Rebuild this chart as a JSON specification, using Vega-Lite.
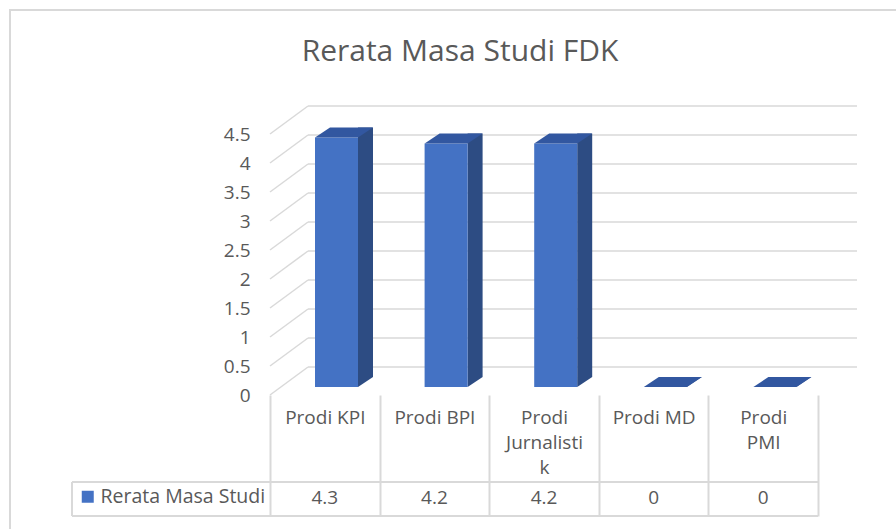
{
  "$schema": "https://vega.github.io/schema/vega-lite/v6.json",
  "autosize": "none",
  "width": 548,
  "height": 261,
  "padding": {"left": 270, "top": 134, "right": 78, "bottom": 134},
  "background": "white",
  "config": {
    "view": {"stroke": null},
    "font": "Open Sans",
    "text": {"font": "Open Sans"}
  },
  "title": {
    "text": "Rerata Masa Studi FDK",
    "font": "Open Sans",
    "fontSize": 30,
    "fontWeight": "normal",
    "color": "#595959",
    "anchor": "middle",
    "frame": "group",
    "baseline": "alphabetic",
    "dx": -84,
    "offset": -82
  },
  "datasets": {
    "bars": [
      {"prodi": "Prodi KPI", "rerata": 4.3, "series": "Rerata Masa Studi"},
      {"prodi": "Prodi BPI", "rerata": 4.2, "series": "Rerata Masa Studi"},
      {"prodi": "Prodi Jurnalistik", "rerata": 4.2, "series": "Rerata Masa Studi"},
      {"prodi": "Prodi MD", "rerata": 0, "series": "Rerata Masa Studi"},
      {"prodi": "Prodi PMI", "rerata": 0, "series": "Rerata Masa Studi"}
    ],
    "ticks": [
      {"v": 0}, {"v": 0.5}, {"v": 1}, {"v": 1.5}, {"v": 2},
      {"v": 2.5}, {"v": 3}, {"v": 3.5}, {"v": 4}, {"v": 4.5}
    ]
  },
  "data": {"name": "bars"},
  "layer": [
    {
      "data": {"name": "ticks"},
      "mark": {"type": "rule", "color": "#D9D9D9", "strokeWidth": 1.5, "xOffset": -16.8, "x2Offset": 93.8, "yOffset": -28},
      "encoding": {
        "x": {"datum": "Prodi KPI", "type": "nominal", "title": null,
          "scale": {"domain": ["Prodi KPI", "Prodi BPI", "Prodi Jurnalistik", "Prodi MD", "Prodi PMI"], "paddingInner": 0, "paddingOuter": 0},
          "axis": {
            "orient": "bottom",
            "title": null,
            "domain": false,
            "ticks": true,
            "tickBand": "extent",
            "tickSize": 121,
            "tickColor": "#D9D9D9",
            "tickWidth": 2,
            "labelAngle": 0,
            "labelFont": "Open Sans",
            "labelFontSize": 19,
            "labelColor": "#595959",
            "labelPadding": -108,
            "labelLineHeight": 25,
            "labelOverlap": false,
            "labelLimit": 300,
            "labelExpr": "datum.value == 'Prodi Jurnalistik' ? ['Prodi', 'Jurnalisti', 'k'] : datum.value == 'Prodi PMI' ? ['Prodi', 'PMI'] : datum.label"
          }
        },
        "x2": {"datum": "Prodi PMI"},
        "y": {"field": "v", "type": "quantitative", "title": null,
          "scale": {"domain": [0, 4.5], "nice": false},
          "axis": {
            "title": null,
            "values": [0, 0.5, 1, 1.5, 2, 2.5, 3, 3.5, 4, 4.5],
            "tickCount": 10,
            "format": "~g",
            "domain": false,
            "ticks": false,
            "grid": false,
            "labelPadding": 20,
            "labelFont": "Open Sans",
            "labelFontSize": 19,
            "labelColor": "#595959"
          }
        }
      }
    },
    {
      "data": {"name": "ticks"},
      "mark": {"type": "rule", "color": "#D9D9D9", "strokeWidth": 1.5, "xOffset": -54.8, "x2Offset": -16.8, "y2Offset": -28},
      "encoding": {
        "x": {"datum": "Prodi KPI", "type": "nominal", "title": null},
        "x2": {"datum": "Prodi KPI"},
        "y": {"field": "v", "type": "quantitative", "title": null},
        "y2": {"field": "v"}
      }
    },
    {
      "mark": {"type": "rule", "color": "#D9D9D9", "strokeWidth": 2, "xOffset": -314.8, "yOffset": -124, "y2Offset": 140},
      "encoding": {
        "x": {"datum": "Prodi KPI", "type": "nominal", "title": null},
        "y": {"datum": 4.5, "type": "quantitative", "title": null},
        "y2": {"datum": 0}
      }
    },
    {
      "mark": {"type": "rule", "color": "#D9D9D9", "strokeWidth": 2, "xOffset": -315.8, "x2Offset": 144.8, "yOffset": -124},
      "encoding": {
        "x": {"datum": "Prodi KPI", "type": "nominal", "title": null},
        "x2": {"datum": "Prodi PMI"},
        "y": {"datum": 4.5, "type": "quantitative", "title": null}
      }
    },
    {
      "mark": {"type": "rule", "color": "#D9D9D9", "strokeWidth": 2, "xOffset": -252.8, "x2Offset": 54.8, "yOffset": 87},
      "encoding": {
        "x": {"datum": "Prodi KPI", "type": "nominal", "title": null},
        "x2": {"datum": "Prodi PMI"},
        "y": {"datum": 0, "type": "quantitative", "title": null}
      }
    },
    {
      "mark": {"type": "rule", "color": "#D9D9D9", "strokeWidth": 2, "xOffset": -252.8, "x2Offset": 54.8, "yOffset": 121},
      "encoding": {
        "x": {"datum": "Prodi KPI", "type": "nominal", "title": null},
        "x2": {"datum": "Prodi PMI"},
        "y": {"datum": 0, "type": "quantitative", "title": null}
      }
    },
    {
      "mark": {"type": "rule", "color": "#D9D9D9", "strokeWidth": 2, "xOffset": -252.8, "yOffset": 87, "y2Offset": 121},
      "encoding": {
        "x": {"datum": "Prodi KPI", "type": "nominal", "title": null},
        "y": {"datum": 0, "type": "quantitative", "title": null},
        "y2": {"datum": 0}
      }
    },
    {
      "mark": {"type": "bar", "width": 15, "xOffset": 40.7, "yOffset": -18, "y2Offset": -18, "color": "#2D4C83"},
      "encoding": {
        "x": {"field": "prodi", "type": "nominal", "sort": null, "title": null},
        "y": {"field": "rerata", "type": "quantitative", "title": null},
        "y2": {"datum": 0}
      }
    },
    {
      "mark": {"type": "point", "shape": "M -7.5 -5 L 7.5 -5 L -7.5 5 Z", "size": 4, "filled": true, "opacity": 1, "strokeWidth": 0, "xOffset": 40.7, "yOffset": -13, "color": "#2D4C83"},
      "encoding": {
        "x": {"field": "prodi", "type": "nominal", "sort": null, "title": null},
        "y": {"datum": 0, "type": "quantitative", "title": null}
      }
    },
    {
      "mark": {"type": "bar", "width": 43, "xOffset": 11.7, "yOffset": -8, "y2Offset": -8},
      "encoding": {
        "x": {"field": "prodi", "type": "nominal", "sort": null, "title": null},
        "y": {"field": "rerata", "type": "quantitative", "title": null},
        "y2": {"datum": 0},
        "color": {"field": "series", "type": "nominal",
          "scale": {"range": ["#4472C4"]},
          "legend": {
            "title": null,
            "orient": "none",
            "legendX": -192,
            "legendY": 353,
            "padding": 0,
            "symbolType": "square",
            "symbolSize": 144,
            "symbolStrokeWidth": 0,
            "labelFont": "Open Sans",
            "labelFontSize": 19.5,
            "labelColor": "#595959",
            "labelOffset": 3,
            "labelLimit": 300
          }
        }
      }
    },
    {
      "mark": {"type": "point", "shape": "M -29 5 L 14 5 L 29 -5 L -14 -5 Z", "size": 4, "filled": true, "opacity": 1, "strokeWidth": 0, "xOffset": 19.2, "yOffset": -13, "color": "#3257A0"},
      "encoding": {
        "x": {"field": "prodi", "type": "nominal", "sort": null, "title": null},
        "y": {"field": "rerata", "type": "quantitative", "title": null}
      }
    },
    {
      "mark": {"type": "text", "font": "Open Sans", "fontSize": 19, "color": "#595959", "baseline": "middle", "yOffset": 103},
      "encoding": {
        "x": {"field": "prodi", "type": "nominal", "sort": null, "title": null},
        "y": {"datum": 0, "type": "quantitative", "title": null},
        "text": {"field": "rerata", "type": "quantitative"}
      }
    }
  ]
}
